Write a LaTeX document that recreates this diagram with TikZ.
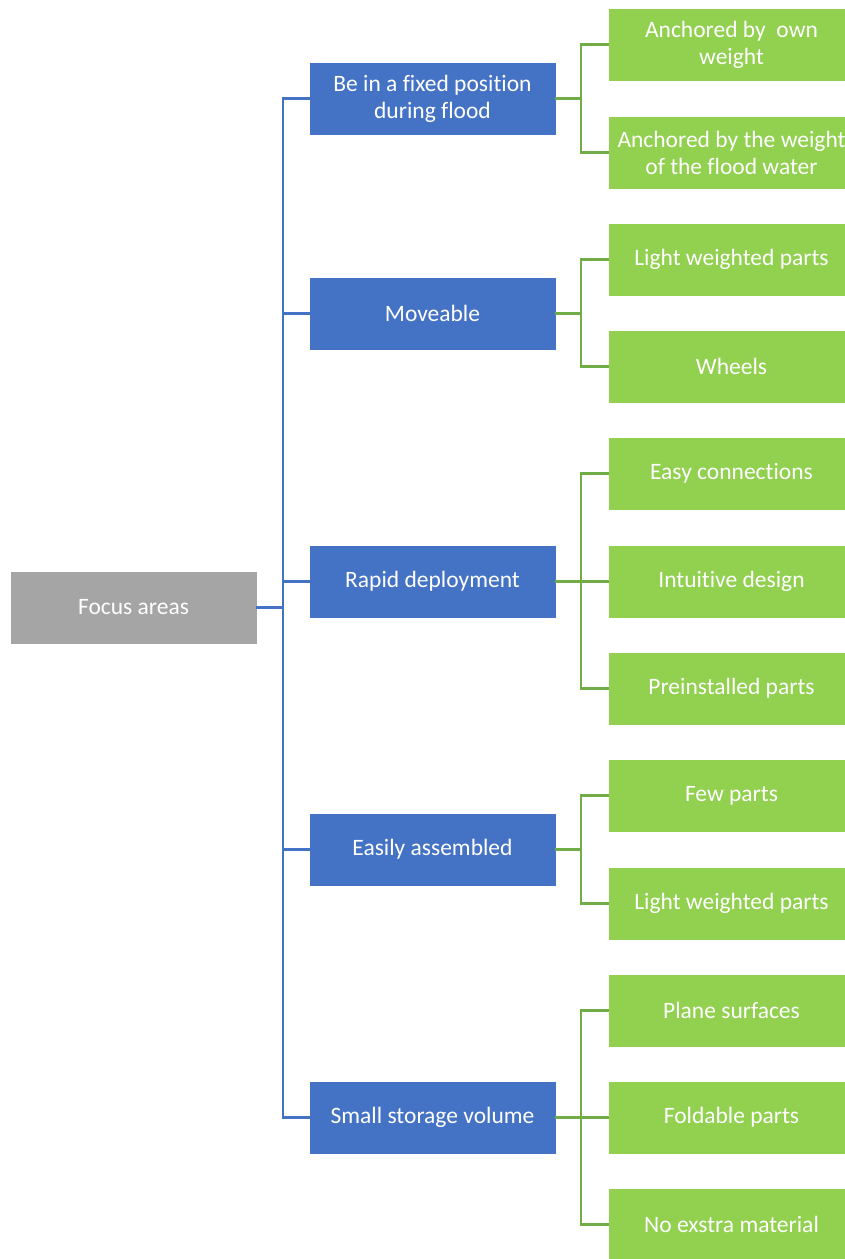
\documentclass[tikz,border=0pt]{standalone}
\usepackage{fontspec}
\setmainfont[Ligatures={NoCommon}]{Carlito}
\definecolor{rootgray}{HTML}{A5A5A5}
\definecolor{lvlblue}{HTML}{4472C4}
\definecolor{leafgreen}{HTML}{92D050}
\definecolor{linegreen}{HTML}{70AD47}
\begin{document}
\begin{tikzpicture}[x=1pt,y=-1pt,
  box/.style={rectangle, draw=white, line width=0.8pt, text=white, minimum width=247pt, minimum height=73pt, align=center, inner sep=0pt, font=\fontsize{23.5}{27}\selectfont},
  rootbox/.style={box, fill=rootgray},
  midbox/.style={box, fill=lvlblue},
  leafbox/.style={box, fill=leafgreen},
  blueline/.style={draw=lvlblue, line width=2.4pt, line cap=rect},
  greenline/.style={draw=linegreen, line width=2.4pt, line cap=rect}]
\clip (0,0) rectangle (845,1259);
\fill[white] (0,0) rectangle (845,1259);
% root
\node[rootbox] (root) at (133.5,607.5) {Focus areas};
% middle level
\node[midbox] (m1) at (432.5,98.5) {Be in a fixed position\\during flood};
\node[midbox] (m2) at (432.5,313.5) {Moveable};
\node[midbox] (m3) at (432.5,581.5) {Rapid deployment};
\node[midbox] (m4) at (432.5,849.5) {Easily assembled};
\node[midbox] (m5) at (432.5,1117.5) {Small storage volume};
% leaves
\node[leafbox] (l1) at (731.5,44.5) {Anchored by\ \ own\\weight};
\node[leafbox] (l2) at (731.5,152.5) {Anchored by the weight\\of the flood water};
\node[leafbox] (l3) at (731.5,259.5) {Light weighted parts};
\node[leafbox] (l4) at (731.5,366.5) {Wheels};
\node[leafbox] (l5) at (731.5,473.5) {Easy connections};
\node[leafbox] (l6) at (731.5,581.5) {Intuitive design};
\node[leafbox] (l7) at (731.5,688.5) {Preinstalled parts};
\node[leafbox] (l8) at (731.5,795.5) {Few parts};
\node[leafbox] (l9) at (731.5,903.5) {Light weighted parts};
\node[leafbox] (l10) at (731.5,1010.5) {Plane surfaces};
\node[leafbox] (l11) at (731.5,1117.5) {Foldable parts};
\node[leafbox] (l12) at (731.5,1224.5) {No exstra material};
% blue connectors
\coordinate (bj) at (283,607.5);
\draw[blueline] (root.east) -- (bj);
\draw[blueline] (bj |- m1) -- (bj |- m5);
\foreach \m in {m1,m2,m3,m4,m5} {
  \draw[blueline] (bj |- \m) -- (\m.west);
}
% green connectors
\coordinate (gx) at (581,0);
\draw[greenline] (m1.east) -- (gx |- m1);
\draw[greenline] (gx |- l1) -- (gx |- l2);
\foreach \l in {l1,l2} { \draw[greenline] (gx |- \l) -- (\l.west); }
\draw[greenline] (m2.east) -- (gx |- m2);
\draw[greenline] (gx |- l3) -- (gx |- l4);
\foreach \l in {l3,l4} { \draw[greenline] (gx |- \l) -- (\l.west); }
\draw[greenline] (m3.east) -- (gx |- m3);
\draw[greenline] (gx |- l5) -- (gx |- l7);
\foreach \l in {l5,l6,l7} { \draw[greenline] (gx |- \l) -- (\l.west); }
\draw[greenline] (m4.east) -- (gx |- m4);
\draw[greenline] (gx |- l8) -- (gx |- l9);
\foreach \l in {l8,l9} { \draw[greenline] (gx |- \l) -- (\l.west); }
\draw[greenline] (m5.east) -- (gx |- m5);
\draw[greenline] (gx |- l10) -- (gx |- l12);
\foreach \l in {l10,l11,l12} { \draw[greenline] (gx |- \l) -- (\l.west); }
\end{tikzpicture}
\end{document}
